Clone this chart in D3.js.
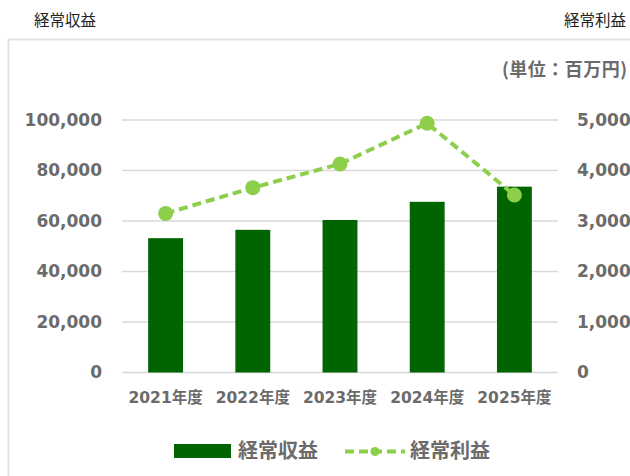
<!DOCTYPE html>
<html>
<head>
<meta charset="utf-8">
<script src="https://cdn.jsdelivr.net/npm/d3@7"></script>
<style>
  html, body { margin: 0; padding: 0; background: #fff; }
  svg { display: block; }
</style>
</head>
<body>
<script>
// ---- data ----
const categories = ["2021年度", "2022年度", "2023年度", "2024年度", "2025年度"];
const revenue = [53200, 56500, 60400, 67600, 73600];     // 経常収益 (left axis)
const profit = [3150, 3660, 4130, 4935, 3515];           // 経常利益 (right axis)
const leftTicks = [0, 20000, 40000, 60000, 80000, 100000];
const rightTicks = [0, 1000, 2000, 3000, 4000, 5000];
const seriesNames = ["経常収益", "経常利益"];
const titleLeft = "経常収益";
const titleRight = "経常利益";
const unitLabel = "(単位：百万円)";

// ---- layout ----
const W = 630, H = 476;
const barColor = "#006400";
const lineColor = "#8dcf4a";
const textGray = "#6b6b6b";
const numFont = "'DejaVu Sans', 'Noto Sans CJK JP', sans-serif";
const cjkFont = "'Noto Sans CJK JP', sans-serif";

const svg = d3.select("body").append("svg").attr("width", W).attr("height", H);
svg.append("rect").attr("width", W).attr("height", H).attr("fill", "#fff");

// titles above the panel
svg.append("text").attr("x", 34).attr("y", 21).attr("dy", "0.35em")
  .attr("font-family", cjkFont).attr("font-size", 15.5).attr("fill", "#222")
  .text(titleLeft);
svg.append("text").attr("x", 626).attr("y", 21).attr("dy", "0.35em")
  .attr("text-anchor", "end")
  .attr("font-family", cjkFont).attr("font-size", 15.5).attr("fill", "#222")
  .text(titleRight);

// panel frame
svg.append("rect").attr("x", 8.5).attr("y", 39.5).attr("width", 700).attr("height", 500)
  .attr("fill", "#fff").attr("stroke", "#e3e3e3").attr("stroke-width", 2);

// unit label
svg.append("text").attr("x", 502).attr("y", 70).attr("dy", "0.35em")
  .attr("font-family", cjkFont).attr("font-size", 18).attr("font-weight", 700)
  .attr("letter-spacing", 0.5)
  .attr("fill", textGray).text(unitLabel);

// scales
const x = d3.scaleBand().domain(categories).range([122, 558]).padding(0);
const yL = d3.scaleLinear().domain([0, 100000]).range([372.5, 120]);
const yR = d3.scaleLinear().domain([0, 5000]).range([372.5, 120]);

// gridlines
svg.append("g").selectAll("line").data(leftTicks).join("line")
  .attr("x1", 122).attr("x2", 558)
  .attr("y1", d => yL(d)).attr("y2", d => yL(d))
  .attr("stroke", "#d9d9d9").attr("stroke-width", 1.5);

// left axis
const axL = d3.axisLeft(yL).tickValues(leftTicks).tickSize(0).tickPadding(0)
  .tickFormat(d3.format(","));
const gL = svg.append("g").attr("transform", "translate(102,0)").call(axL);
gL.select(".domain").remove();
gL.selectAll("text").attr("font-family", numFont).attr("font-size", 17)
  .attr("font-weight", 700).attr("fill", textGray);

// right axis
const axR = d3.axisRight(yR).tickValues(rightTicks).tickSize(0).tickPadding(0)
  .tickFormat(d3.format(","));
const gR = svg.append("g").attr("transform", "translate(577,0)").call(axR);
gR.select(".domain").remove();
gR.selectAll("text").attr("font-family", numFont).attr("font-size", 17)
  .attr("font-weight", 700).attr("fill", textGray);

// bottom axis
const axB = d3.axisBottom(x).tickSize(0).tickPadding(0);
const gB = svg.append("g").attr("transform", "translate(0,398)").call(axB);
gB.select(".domain").remove();
gB.selectAll("text").attr("dy", "0.35em").attr("font-family", numFont)
  .attr("font-size", 15.5).attr("font-weight", 700).attr("fill", textGray);

// bars
svg.append("g").selectAll("rect").data(revenue).join("rect")
  .attr("x", (d, i) => x(categories[i]) + x.bandwidth() * 0.3)
  .attr("width", x.bandwidth() * 0.4)
  .attr("y", d => yL(d))
  .attr("height", d => yL(0) - yL(d))
  .attr("fill", barColor);

// line
const cx = i => x(categories[i]) + x.bandwidth() / 2;
const line = d3.line().x((d, i) => cx(i)).y(d => yR(d));
svg.append("path").datum(profit).attr("d", line)
  .attr("fill", "none").attr("stroke", lineColor).attr("stroke-width", 4)
  .attr("stroke-dasharray", "9,5");
svg.append("g").selectAll("circle").data(profit).join("circle")
  .attr("cx", (d, i) => cx(i)).attr("cy", d => yR(d)).attr("r", 7.5)
  .attr("fill", lineColor);

// legend
const lg = svg.append("g");
lg.append("rect").attr("x", 174).attr("y", 444).attr("width", 57).attr("height", 14)
  .attr("fill", barColor);
lg.append("text").attr("x", 238).attr("y", 451).attr("dy", "0.35em")
  .attr("font-family", cjkFont).attr("font-size", 20).attr("font-weight", 700)
  .attr("fill", textGray).text(seriesNames[0]);
lg.append("line").attr("x1", 345).attr("x2", 405).attr("y1", 451.5).attr("y2", 451.5)
  .attr("stroke", lineColor).attr("stroke-width", 4).attr("stroke-dasharray", "9,5");
lg.append("circle").attr("cx", 375).attr("cy", 451.5).attr("r", 4.5).attr("fill", lineColor);
lg.append("text").attr("x", 410).attr("y", 451).attr("dy", "0.35em")
  .attr("font-family", cjkFont).attr("font-size", 20).attr("font-weight", 700)
  .attr("fill", textGray).text(seriesNames[1]);
</script>
</body>
</html>
